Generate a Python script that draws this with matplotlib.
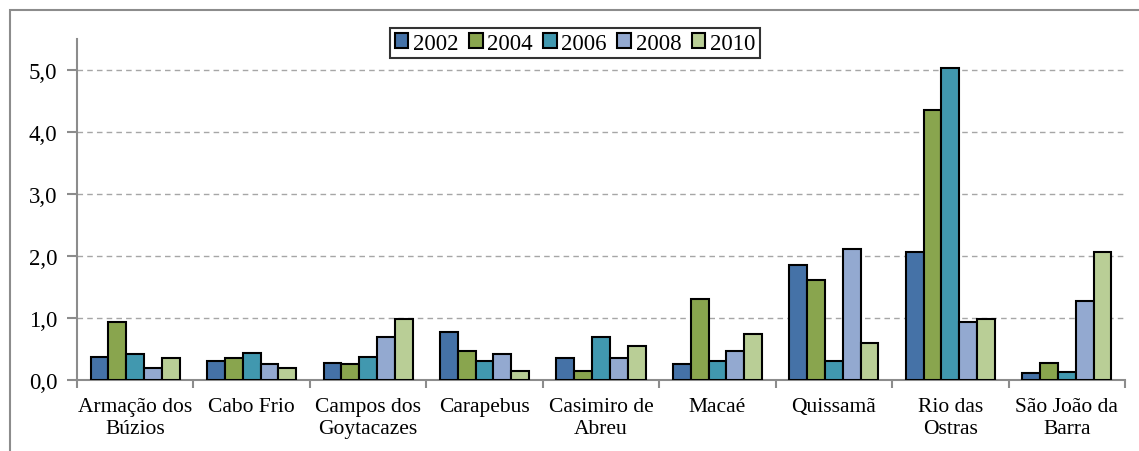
import matplotlib
matplotlib.use("Agg")
import matplotlib.pyplot as plt
import numpy as np
from matplotlib.patches import Rectangle

categories = ["Armação dos\nBúzios", "Cabo Frio", "Campos dos\nGoytacazes", "Carapebus",
              "Casimiro de\nAbreu", "Macaé", "Quissamã", "Rio das\nOstras", "São João da\nBarra"]
years = ["2002", "2004", "2006", "2008", "2010"]
v2002 = [0.37, 0.31, 0.28, 0.78, 0.35, 0.26, 1.86, 2.06, 0.12]
v2004 = [0.93, 0.35, 0.26, 0.47, 0.15, 1.30, 1.62, 4.35, 0.27]
v2006 = [0.42, 0.44, 0.37, 0.30, 0.69, 0.31, 0.31, 5.04, 0.13]
v2008 = [0.20, 0.26, 0.70, 0.42, 0.35, 0.46, 2.12, 0.94, 1.27]
v2010 = [0.35, 0.20, 0.99, 0.15, 0.55, 0.75, 0.59, 0.99, 2.06]
series = [v2002, v2004, v2006, v2008, v2010]
colors = ["#4572A7", "#89A54E", "#4198AF", "#93A9D0", "#B9CE96"]
yticks = [0.0, 1.0, 2.0, 3.0, 4.0, 5.0]
ytick_labels = ["0,0", "1,0", "2,0", "3,0", "4,0", "5,0"]

plt.rcParams['font.family'] = ['Liberation Serif', 'DejaVu Serif']

W, H = 1139, 452
fig = plt.figure(figsize=(W / 100, H / 100), dpi=100)
ax = fig.add_axes([77 / W, 1 - 381 / H, (1125 - 77) / W, (381 - 40) / H])

# outer chart border (top & left visible)
fig.patches.append(Rectangle((10 / W, -0.1), 1.2, 1 - 11 / H + 0.1, transform=fig.transFigure,
                             fill=False, edgecolor="#8C8C8C", linewidth=1.5, zorder=0))

x = np.arange(len(categories))
bw = 0.153
for i, (vals, c, yr) in enumerate(zip(series, colors, years)):
    ax.bar(x + (i - 2) * bw, vals, width=bw, color=c, edgecolor="black", linewidth=1.5,
           label=yr, zorder=3)

ax.set_xlim(-0.5, len(categories) - 0.5)
ax.set_ylim(0, 5.5)
ax.set_yticks(yticks)
ax.set_yticklabels(ytick_labels, fontsize=16.5)
ax.yaxis.grid(True, linestyle=(0, (4, 3)), color="#A6A6A6", linewidth=1)
ax.set_axisbelow(True)

ax.set_xticks(x)
ax.set_xticklabels(categories, fontsize=15.5, linespacing=1.25)
ax.set_xticks(np.arange(len(categories) + 1) - 0.5, minor=True)
ax.tick_params(axis="x", which="major", length=0, pad=12)
ax.tick_params(axis="x", which="minor", length=6, width=1.5, color="#8C8C8C", direction="out")
ax.tick_params(axis="y", length=7, width=1.5, color="#8C8C8C", direction="out", pad=7)

for s in ["top", "right"]:
    ax.spines[s].set_visible(False)
ax.spines["left"].set_color("#8C8C8C")
ax.spines["bottom"].set_color("#8C8C8C")
ax.spines["left"].set_linewidth(1.5)
ax.spines["bottom"].set_linewidth(1.5)

leg = fig.legend(loc="center", bbox_to_anchor=(575 / W, 1 - 44 / H), ncol=5, fontsize=16.5,
                 frameon=True, fancybox=False, edgecolor="black", handlelength=0.6,
                 handleheight=0.6, handletextpad=0.2, columnspacing=0.45, borderpad=0.2)
leg.get_frame().set_linewidth(1.5)
for h in leg.legend_handles:
    h.set_linewidth(1.5)

fig.savefig("out.png", dpi=100)
